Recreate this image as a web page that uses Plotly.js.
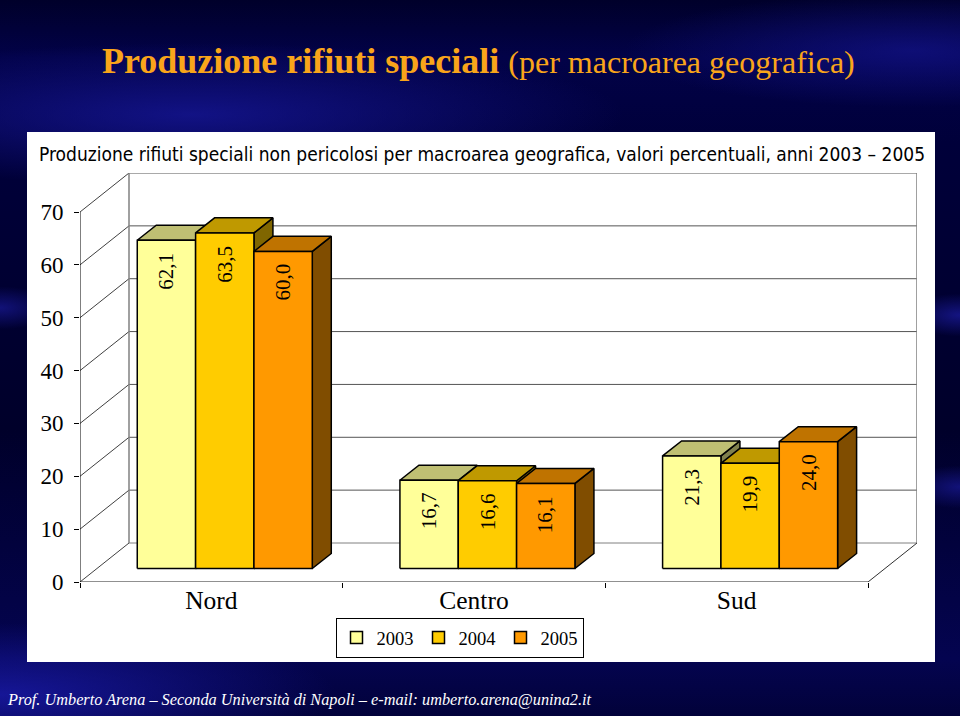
<!DOCTYPE html>
<html>
<head>
<meta charset="utf-8">
<script src="https://cdn.plot.ly/plotly-3.0.1.min.js"></script>
<style>
  html, body { margin: 0; padding: 0; }
  #bg {
    position: absolute; left: 0; top: 0; width: 960px; height: 716px;
    background:
      radial-gradient(ellipse 45% 10% at 20% 16%, rgba(22,22,150,0.8), rgba(22,22,150,0) 100%),
      radial-gradient(ellipse 30% 8% at 95% 7%, rgba(22,22,150,0.6), rgba(22,22,150,0) 100%),
      radial-gradient(ellipse 35% 10% at 0% 97%, rgba(25,25,165,0.85), rgba(25,25,165,0) 100%),
      radial-gradient(ellipse 6% 3% at 100% 44%, rgba(25,25,150,0.8), rgba(25,25,150,0) 100%),
      radial-gradient(ellipse 6% 3% at 0% 43%, rgba(25,25,150,0.7), rgba(25,25,150,0) 100%),
      radial-gradient(ellipse 6% 3% at 100% 68%, rgba(25,25,150,0.7), rgba(25,25,150,0) 100%),
      linear-gradient(180deg, #00002a 0%, #020248 8%, #00003a 20%, #00002a 60%, #040450 92%, #02023a 100%);
  }
  #chart { position: absolute; left: 0; top: 0; width: 960px; height: 716px; }
</style>
</head>
<body>
<div id="bg"></div>
<div id="chart"></div>
<script>
// ---- data ----
const categories = ['Nord', 'Centro', 'Sud'];
const years = ['2003', '2004', '2005'];
const v2003 = [62.1, 16.7, 21.3];
const v2004 = [63.5, 16.6, 19.9];
const v2005 = [60.0, 16.1, 24.0];
const yTicks = [0, 10, 20, 30, 40, 50, 60, 70];

// ---- style / geometry constants ----
const frontColors = ['#FFFF99', '#FFCC00', '#FF9900'];
const topColors   = ['#BFBF73', '#BF9900', '#BF7300'];
const sideColors  = ['#80804D', '#806600', '#804D00'];
const DX = 0.18655, DY = 7.378;       // wall depth (data units)
const G0 = 0.218, W = 0.2221;         // group start, bar width
const B = 2.55;                        // bar front base offset
const ddx = 0.0723, ddy = 2.84;        // bar depth
const yMax = yTicks[yTicks.length - 1];
const series = [v2003, v2004, v2005];

const traces = [];
const serif = 'Liberation Serif, Times New Roman, serif';

function line(xs, ys, color, width) {
  traces.push({type: 'scatter', mode: 'lines', x: xs, y: ys, hoverinfo: 'skip',
    showlegend: false, line: {color: color, width: width}});
}

// side wall diagonals and back wall gridlines
yTicks.forEach(v => {
  line([0, DX], [v, v + DY], '#404040', 1);
  line([DX, categories.length + DX], [v + DY, v + DY], v === 0 ? '#808080' : '#555555', 1);
});
// back wall verticals
line([DX, DX], [DY, yMax + DY], '#808080', 1.5);
line([categories.length + DX, categories.length + DX], [DY, yMax + DY], '#808080', 1.5);
// floor right edge
line([categories.length, categories.length + DX], [0, DY], '#303030', 1);
// front axes
line([0, 0], [0, yMax], '#000', 1);
line([0, categories.length], [0, 0], '#202020', 1);

// bars
const annotations = [];
series.forEach((vals, j) => {
  const fx = [], fy = [], tx = [], ty = [], sx = [], sy = [];
  vals.forEach((v, k) => {
    const x0 = k + G0 + j * W, x1 = x0 + W, yb = B, yt = B + v;
    sx.push(x1, x1 + ddx, x1 + ddx, x1, x1, null);
    sy.push(yb, yb + ddy, yt + ddy, yt, yb, null);
    tx.push(x0, x1, x1 + ddx, x0 + ddx, x0, null);
    ty.push(yt, yt, yt + ddy, yt + ddy, yt, null);
    fx.push(x0, x1, x1, x0, x0, null);
    fy.push(yb, yb, yt, yt, yb, null);
    annotations.push({x: (x0 + x1) / 2, y: yt, xref: 'x', yref: 'y', yshift: -31,
      text: v.toFixed(1).replace('.', ','), textangle: -90, showarrow: false,
      xanchor: 'center', yanchor: 'middle', font: {family: serif, size: 21, color: '#000'}});
  });
  traces.push({type: 'scatter', mode: 'lines', x: sx, y: sy, fill: 'toself',
    fillcolor: sideColors[j], line: {color: '#000', width: 1.5}, hoverinfo: 'skip', showlegend: false});
  traces.push({type: 'scatter', mode: 'lines', x: tx, y: ty, fill: 'toself',
    fillcolor: topColors[j], line: {color: '#000', width: 1.5}, hoverinfo: 'skip', showlegend: false});
  traces.push({type: 'scatter', mode: 'lines', x: fx, y: fy, fill: 'toself',
    fillcolor: frontColors[j], line: {color: '#000', width: 1.5}, hoverinfo: 'skip', showlegend: false});
});
// legend entries
years.forEach((yr, j) => {
  traces.push({type: 'scatter', mode: 'markers', x: [null], y: [null], name: yr,
    marker: {symbol: 'square', size: 12, color: frontColors[j], line: {color: '#000', width: 1.5}}});
});

// titles
annotations.push({xref: 'paper', yref: 'paper', x: (100 - 80) / 837, y: (582 - 61) / 409,
  xanchor: 'left', yanchor: 'middle', showarrow: false,
  text: '<b>Produzione rifiuti speciali</b> <span style="font-size:32px">(per macroarea geografica)</span>',
  font: {family: serif, size: 36, color: '#F9A51A'}});
annotations.push({xref: 'paper', yref: 'paper', x: (37 - 80) / 837, y: (582 - 154) / 409,
  xanchor: 'left', yanchor: 'middle', showarrow: false,
  text: 'Produzione rifiuti speciali non pericolosi per macroarea geografica, valori percentuali, anni 2003 – 2005',
  font: {family: 'DejaVu Sans Condensed, sans-serif', size: 19, color: '#000'}});
annotations.push({xref: 'paper', yref: 'paper', x: (5 - 80) / 837, y: (582 - 699) / 409,
  xanchor: 'left', yanchor: 'middle', showarrow: false,
  text: '<i>Prof. Umberto Arena – Seconda Università di Napoli – e-mail: umberto.arena@unina2.it</i>',
  font: {family: serif, size: 16.3, color: '#FFFFFF'}});

const layout = {
  width: 960, height: 716,
  margin: {l: 80, r: 43, t: 173, b: 134, pad: 0},
  paper_bgcolor: 'rgba(0,0,0,0)', plot_bgcolor: 'rgba(0,0,0,0)',
  showlegend: true,
  legend: {orientation: 'h', x: (459.5 - 80) / 837, xanchor: 'center', y: (582 - 618) / 409, yanchor: 'top',
    bgcolor: '#FFFFFF', bordercolor: '#000', borderwidth: 1,
    font: {family: serif, size: 18.5, color: '#000'}, itemwidth: 30},
  xaxis: {range: [0, categories.length + DX], showgrid: false, zeroline: false, showline: false,
    tickmode: 'array', tickvals: categories.map((c, i) => i + 0.5), ticktext: categories,
    ticks: '', tickfont: {family: serif, size: 25.5, color: '#000'},
    minor: {tick0: 0, dtick: 1, ticks: 'outside', ticklen: 5, tickcolor: '#000', showgrid: false},
    fixedrange: true},
  yaxis: {range: [0, yMax + DY], showgrid: false, zeroline: false, showline: false,
    tickmode: 'array', tickvals: yTicks, ticks: 'outside', ticklen: 5, tickcolor: '#000',
    tickfont: {family: serif, size: 23, color: '#000'}, ticklabelstandoff: 6, fixedrange: true},
  shapes: [{type: 'rect', xref: 'paper', yref: 'paper', layer: 'below',
    x0: (27 - 80) / 837, x1: (935 - 80) / 837, y0: (582 - 662) / 409, y1: (582 - 132) / 409,
    fillcolor: '#FFFFFF', line: {width: 0}}],
  annotations: annotations
};

Plotly.newPlot('chart', traces, layout, {displayModeBar: false, staticPlot: true});
</script>
</body>
</html>
